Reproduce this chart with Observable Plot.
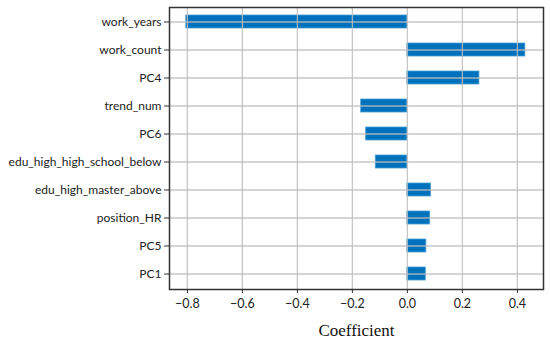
<!DOCTYPE html>
<html><head><meta charset="utf-8">
<script src="https://cdn.jsdelivr.net/npm/d3@7"></script>
<script src="https://cdn.jsdelivr.net/npm/@observablehq/plot@0.6"></script>
<style>body{margin:0;background:#fff}</style>
</head><body><div id="chart"></div>
<script>
const features = ["work_years","work_count","PC4","trend_num","PC6","edu_high_high_school_below","edu_high_master_above","position_HR","PC5","PC1"];
const coefficients = [-0.804, 0.429, 0.262, -0.168, -0.150, -0.115, 0.086, 0.083, 0.069, 0.067];
const xTicks = [-0.8, -0.6, -0.4, -0.2, 0, 0.2, 0.4];
const xLabel = "Coefficient";
const data = features.map((f, i) => ({feature: f, coef: coefficients[i]}));
const fmt = d => (d < 0 ? "\u2212" : "") + Math.abs(d).toFixed(1);
const chart = Plot.plot({
  width: 550, height: 346,
  marginLeft: 169, marginRight: 7, marginTop: 7, marginBottom: 57,
  style: {fontFamily: "Lato", fontSize: "12px", color: "#222", background: "#fff"},
  x: {domain: [-0.865, 0.495], ticks: xTicks, tickFormat: fmt},
  y: {type: "band", domain: features, paddingInner: 0.52, paddingOuter: 0.26},
  marks: [
    Plot.barX(data, {x: "coef", y: "feature", fill: "#0072BD", stroke: "#4a9fd6", strokeWidth: 0.8}),
    Plot.gridX(xTicks, {stroke: "#bdbdbd", strokeOpacity: 0.85, strokeWidth: 1.3}),
    Plot.gridY({stroke: "#bdbdbd", strokeOpacity: 0.85, strokeWidth: 1.3}),
    Plot.axisX(xTicks, {tickSize: 4, tickPadding: 6, label: null, tickFormat: fmt, stroke: "#333", fontSize: 12.5}),
    Plot.axisY({tickSize: 5, tickPadding: 3, label: null, stroke: "#333"}),
    Plot.frame({stroke: "#333", strokeWidth: 1.5}),
    Plot.text([xLabel], {frameAnchor: "bottom", dy: 46, fontFamily: "Liberation Serif", fontSize: 17, fill: "#111"})
  ]
});
document.getElementById("chart").appendChild(chart);
</script>
</body></html>
